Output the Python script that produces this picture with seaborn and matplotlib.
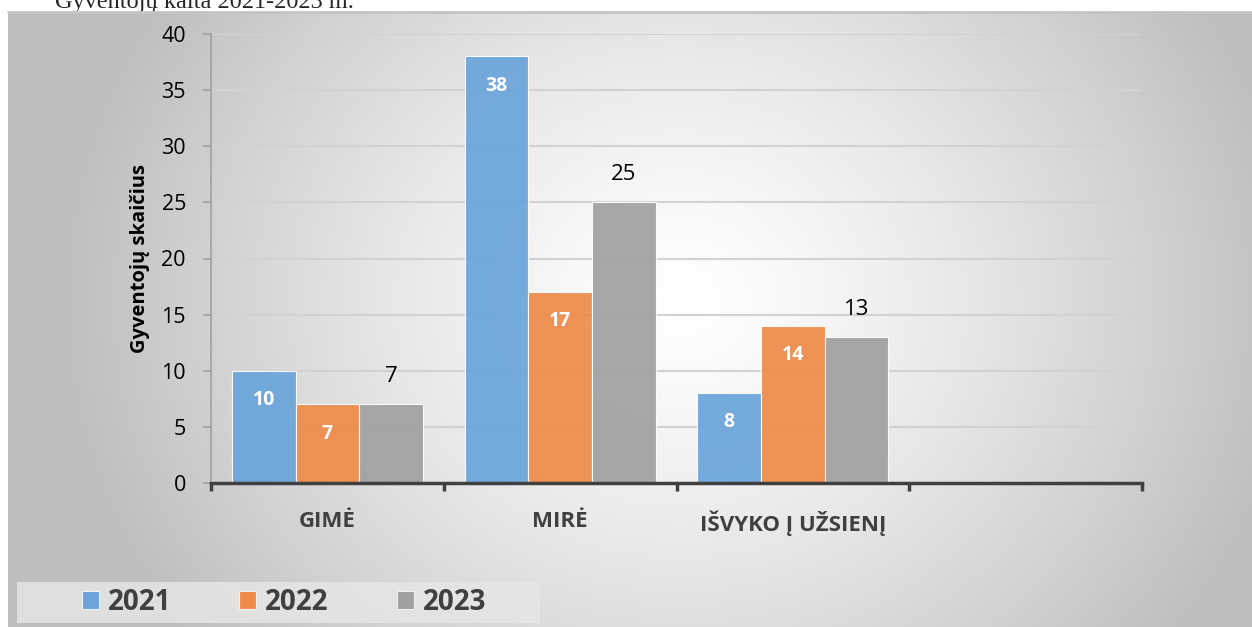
import numpy as np
import pandas as pd
import matplotlib
matplotlib.use("Agg")
import matplotlib.pyplot as plt
import seaborn as sns
from matplotlib.patches import Rectangle

# Duomenys
categories = ["GIMĖ", "MIRĖ", "IŠVYKO Į UŽSIENĮ"]
years = ["2021", "2022", "2023"]
values_2021 = [10, 38, 8]
values_2022 = [7, 17, 14]
values_2023 = [7, 25, 13]
colors = ["#6AA4DA", "#EF8A48", "#A0A0A0"]

df = pd.DataFrame({
    "kategorija": categories * 3,
    "metai": [y for y in years for _ in categories],
    "reiksme": values_2021 + values_2022 + values_2023,
})

sns.set_style("white")
plt.rcParams["font.family"] = ["Open Sans", "DejaVu Sans"]

W, H = 1252, 627
fig = plt.figure(figsize=(W / 100, H / 100), dpi=100)

# pavadinimas, dalinai uzdengtas diagramos
fig.text(55 / W, 1 - 8 / H, "Gyventojų kaita 2021-2023 m.", family=["Liberation Serif"],
         fontsize=17.5, va="baseline", ha="left", zorder=-5)

# radialinis fono gradientas
bg = fig.add_axes([8 / W, 0, 1 - 8 / W, (H - 12) / H], zorder=-1)
yy, xx = np.mgrid[12:H, 8:W]
d = np.sqrt((xx - 680) ** 2 + ((yy - 300) / 0.9) ** 2)
g = 255 - 62 * np.clip(d / 600, 0, 1.3) ** 1.3
g = np.clip(g, 190, 255) / 255
bg.imshow(np.dstack([g, g, g]), aspect="auto", extent=[0, 1, 0, 1])
bg.set_xlim(0, 1)
bg.set_ylim(0, 1)
bg.axis("off")
bg.plot([0, 1], [1, 1], color="#c4c4c4", lw=2, transform=bg.transAxes, clip_on=False)

# legendos fonas
fig.patches.append(Rectangle((17 / W, 1 - 623 / H), 523 / W, 41 / H, transform=fig.transFigure,
                             facecolor="#e6e6e6", edgecolor="none", zorder=0, alpha=0.85))

ax = fig.add_axes([211 / W, 1 - 483 / H, (1142 - 211) / W, (483 - 34) / H], zorder=1)
ax.patch.set_alpha(0)
sns.barplot(data=df, x="kategorija", y="reiksme", hue="metai", order=categories,
            hue_order=years, palette=colors, width=0.82, edgecolor="white", linewidth=0.8,
            saturation=1, alpha=0.92, ax=ax, legend=True)

ax.set_xlim(-0.5, 3.5)
ax.set_ylim(0, 40)
ax.set_yticks(range(0, 41, 5))
ax.yaxis.grid(True, color="#d2d2d2", lw=1.5)
ax.set_axisbelow(True)
for s in ["top", "right"]:
    ax.spines[s].set_visible(False)
ax.spines["left"].set_color("#a0a0a0")
ax.spines["left"].set_linewidth(1.2)
ax.spines["bottom"].set_color("#404040")
ax.spines["bottom"].set_linewidth(2.5)

ax.set_xticks([-0.5, 0.5, 1.5, 2.5, 3.5])
ax.set_xticklabels([])
ax.set_xticks([0, 1, 2], minor=True)
ax.set_xticklabels(categories, minor=True, fontsize=16, fontweight="bold", color="#404040")
ax.tick_params(axis="x", which="major", direction="out", length=6, width=2.5, color="#404040", bottom=True)
ax.tick_params(axis="x", which="minor", length=0, pad=20)
ax.tick_params(axis="y", direction="out", length=6, width=1.2, color="#a0a0a0", labelsize=15.5,
               labelcolor="black", pad=12, left=True)
ax.set_xlabel("")
ax.set_ylabel("Gyventojų skaičius", fontsize=14.5, fontweight="bold", color="black", labelpad=8)

# reiksmiu etiketes
for i, cont in enumerate(ax.containers):
    for bar in cont:
        x = bar.get_x() + bar.get_width() / 2
        h = bar.get_height()
        if i < 2:
            ax.annotate(f"{h:.0f}", (x, h), xytext=(0, -21), textcoords="offset points",
                        ha="center", va="center", color="white", fontweight="bold", fontsize=14)
        else:
            ax.annotate(f"{h:.0f}", (x, h), xytext=(0, 20), textcoords="offset points",
                        ha="center", va="center", color="black", fontsize=16)

ax.get_legend().remove()
handles = [Rectangle((0, 0), 1, 1, facecolor=c, edgecolor="#f0f0f0", lw=0.8) for c in colors]
fig.legend(handles, years, loc="center left", bbox_to_anchor=(82 / W, 1 - 602 / H), ncol=3,
           frameon=False, prop={"weight": "bold", "size": 20}, labelcolor="#404040",
           handlelength=0.61, handleheight=0.61, handletextpad=0.32, columnspacing=2.45,
           borderpad=0, borderaxespad=0)

fig.savefig("out.png", dpi=100)
